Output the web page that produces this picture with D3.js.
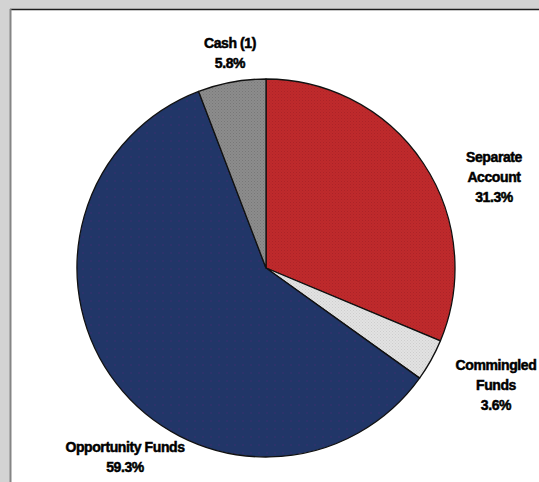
<!DOCTYPE html>
<html>
<head>
<meta charset="utf-8">
<script src="https://cdn.jsdelivr.net/npm/d3@7"></script>
<style>
  html, body { margin: 0; padding: 0; background: #d3d3d3; }
  svg { display: block; }
</style>
</head>
<body>
<svg id="chart" width="539" height="482"></svg>
<script>
// Portfolio allocation by investment vehicle (percent of total)
const categories = ["Separate Account", "Commingled Funds", "Opportunity Funds", "Cash (1)"];
const values = [31.3, 3.6, 59.3, 5.8];
const labelLines = [
  ["Separate", "Account", "31.3%"],
  ["Commingled", "Funds", "3.6%"],
  ["Opportunity Funds", "59.3%"],
  ["Cash (1)", "5.8%"]
];
const colors = ["#bf2a2c", "#e2e2e2", "#213668", "#8c8c8c"];
const dotColors = ["#a82226", "#c8c8c8", "#33306e", "#727272"];

const W = 539, H = 482;
const svg = d3.select("#chart");

// Gray page with white framed panel
svg.append("rect").attr("width", W).attr("height", H).attr("fill", "#d3d3d3");
svg.append("rect").attr("x", 11).attr("y", 9).attr("width", W - 11).attr("height", H - 9).attr("fill", "#ffffff");
svg.append("line").attr("x1", 10).attr("x2", W).attr("y1", 9.5).attr("y2", 9.5)
  .attr("stroke", "#1e1e1e").attr("stroke-width", 1.5);
svg.append("line").attr("x1", 10.5).attr("x2", 10.5).attr("y1", 9).attr("y2", H)
  .attr("stroke", "#858585").attr("stroke-width", 2);

// Fine dotted textures for each slice fill
const defs = svg.append("defs");
categories.forEach((c, i) => {
  const size = i === 2 ? 8 : 3;
  const p = defs.append("pattern")
    .attr("id", "fill" + i)
    .attr("patternUnits", "userSpaceOnUse")
    .attr("width", size).attr("height", size);
  p.append("rect").attr("width", size).attr("height", size).attr("fill", colors[i]);
  p.append("rect").attr("x", 0).attr("y", 0).attr("width", i === 2 ? 2 : 1).attr("height", i === 2 ? 2 : 1)
    .attr("fill", dotColors[i]).attr("opacity", i === 2 ? 0.7 : 0.8);
  if (i !== 2) {
    p.append("rect").attr("x", 1.5).attr("y", 1.5).attr("width", 1).attr("height", 1)
      .attr("fill", dotColors[i]).attr("opacity", 0.6);
  }
});

const cx = 266, cy = 268, R = 189;
const g = svg.append("g").attr("transform", `translate(${cx},${cy})`);

const pie = d3.pie().sort(null).value(d => d)
  .startAngle(0).endAngle(2 * Math.PI);
const arcs = pie(values);
const arc = d3.arc().innerRadius(0).outerRadius(R);

g.selectAll("path.slice")
  .data(arcs)
  .join("path")
  .attr("class", "slice")
  .attr("d", arc)
  .attr("fill", (d, i) => `url(#fill${i})`)
  .attr("stroke", "#111")
  .attr("stroke-width", 1.3)
  .attr("stroke-linejoin", "round");

// Label anchors (offsets from pie centre, first-line baseline)
const labelAnchor = [
  [228, -106],
  [230, 102],
  [-141, 184],
  [-36, -220]
];
const lineH = 20;

const labels = svg.append("g")
  .attr("font-family", "'Liberation Sans', Arial, sans-serif")
  .attr("font-weight", "bold")
  .attr("font-size", 14)
  .attr("letter-spacing", -0.4)
  .attr("fill", "#000")
  .attr("stroke", "#000")
  .attr("stroke-width", 0.5)
  .attr("text-anchor", "middle");

labelLines.forEach((lines, i) => {
  const t = labels.append("text")
    .attr("x", cx + labelAnchor[i][0])
    .attr("y", cy + labelAnchor[i][1]);
  lines.forEach((ln, k) => {
    t.append("tspan")
      .attr("x", cx + labelAnchor[i][0])
      .attr("dy", k === 0 ? 0 : lineH)
      .text(ln);
  });
});
</script>
</body>
</html>
